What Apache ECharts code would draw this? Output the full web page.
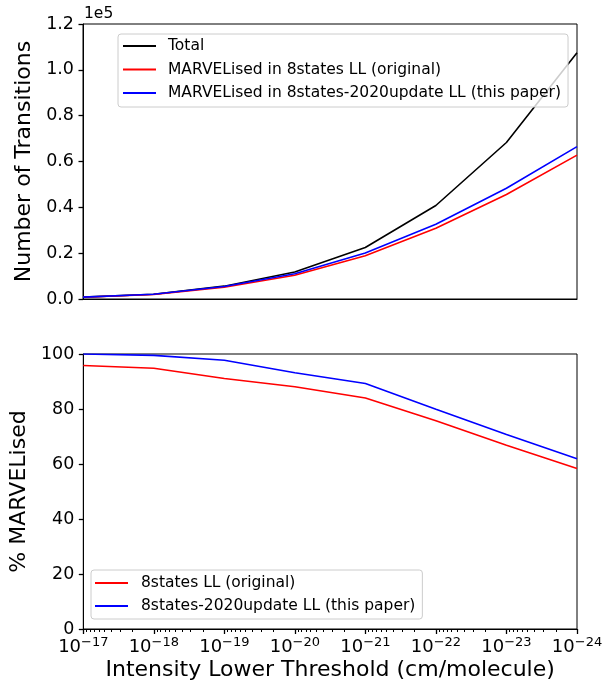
<!DOCTYPE html>
<html>
<head>
<meta charset="utf-8">
<script src="https://cdn.jsdelivr.net/npm/echarts@6/dist/echarts.min.js"></script>
<style>
html,body{margin:0;padding:0;background:#fff;}
#chart{width:614px;height:682px;}
</style>
</head>
<body>
<div id="chart"></div>
<script>
// Intensity thresholds as decade exponents (10^x cm/molecule)
const thresholds = [-17, -18, -19, -20, -21, -22, -23, -24];
// Number of transitions
const totalCounts = [800, 2100, 5600, 11800, 22500, 40800, 68300, 107500];
const marvelOriginal = [766, 1990, 5100, 10400, 18900, 30900, 45600, 62800];
const marvelUpdate = [800, 2090, 5470, 11000, 20100, 32600, 48300, 66500];
// % MARVELised
const pctOriginal = [95.8, 94.8, 91.1, 88.1, 84.0, 75.7, 66.8, 58.4];
const pctUpdate = [100, 99.5, 97.7, 93.2, 89.3, 79.9, 70.7, 61.9];
// Tick labels
const topYTicks = [0, 20000, 40000, 60000, 80000, 100000, 120000];
const bottomYTicks = [0, 20, 40, 60, 80, 100];

const FONT = 'DejaVu Sans';
const pairs = (ys) => thresholds.map((x, i) => [x, ys[i]]);

// minor tick positions (log decades)
const minorTicks = [];
for (let d = -17; d > -24; d--) {
  for (let k = 2; k <= 9; k++) minorTicks.push(d - 1 + Math.log10(k));
}

const chart = echarts.init(document.getElementById('chart'), null, {renderer: 'canvas'});
chart.setOption({
  animation: false,
  backgroundColor: '#fff',
  textStyle: {fontFamily: FONT},
  grid: [
    {left: 83, right: 37, top: 24, height: 275, show: true, borderColor: '#000', borderWidth: 1},
    {left: 83, right: 37, top: 354, height: 275, show: true, borderColor: '#000', borderWidth: 1}
  ],
  xAxis: [
    {
      type: 'value', gridIndex: 0, min: -24, max: -17, interval: 1, inverse: true,
      splitLine: {show: false},
      axisLine: {show: true, lineStyle: {color: '#000'}},
      axisTick: {show: false}, axisLabel: {show: false}
    },
    {
      type: 'value', gridIndex: 1, min: -24, max: -17, interval: 1, inverse: true,
      splitLine: {show: false},
      axisLine: {show: true, lineStyle: {color: '#000'}},
      axisTick: {show: true, length: 5, lineStyle: {color: '#000', width: 1.3}},
      axisLabel: {
        margin: 7, color: '#000',
        formatter: (v) => '{b|10}{s|\u2212' + Math.round(-v) + '}',
        rich: {
          b: {fontFamily: FONT, fontSize: 18, color: '#000'},
          s: {fontFamily: FONT, fontSize: 13, color: '#000', padding: [0, 0, 10, 0]}
        }
      },
      name: 'Intensity Lower Threshold (cm/molecule)',
      nameLocation: 'middle', nameGap: 30,
      nameTextStyle: {fontFamily: FONT, fontSize: 22, color: '#000', verticalAlign: 'top'}
    },
    {
      type: 'value', gridIndex: 1, min: -24, max: -17, inverse: true, position: 'bottom',
      axisLine: {show: false}, splitLine: {show: false}, axisLabel: {show: false},
      axisTick: {show: true, length: 3, customValues: minorTicks, lineStyle: {color: '#000', width: 1}}
    }
  ],
  yAxis: [
    {
      type: 'value', gridIndex: 0, min: 0, max: 120000, interval: 20000,
      splitLine: {show: false},
      axisLine: {show: true, lineStyle: {color: '#000'}},
      axisTick: {show: true, length: 4.5, lineStyle: {color: '#000', width: 1.3}},
      axisLabel: {margin: 9, fontSize: 17.5, color: '#000', fontFamily: FONT,
        formatter: (v) => (v / 1e5).toFixed(1)},
      name: 'Number of Transitions', nameLocation: 'middle', nameGap: 40,
      nameTextStyle: {fontFamily: FONT, fontSize: 22, color: '#000'}
    },
    {
      type: 'value', gridIndex: 1, min: 0, max: 100, interval: 20,
      splitLine: {show: false},
      axisLine: {show: true, lineStyle: {color: '#000'}},
      axisTick: {show: true, length: 4.5, lineStyle: {color: '#000', width: 1.3}},
      axisLabel: {margin: 9, fontSize: 17.5, color: '#000', fontFamily: FONT},
      name: '% MARVELised', nameLocation: 'middle', nameGap: 41,
      nameTextStyle: {fontFamily: FONT, fontSize: 22, color: '#000'}
    }
  ],
  legend: [
    {
      orient: 'vertical', left: 118, top: 34,
      padding: [4, 7, 6, 5], itemGap: 7.5, itemWidth: 33, itemHeight: 2, icon: 'rect',
      backgroundColor: 'rgba(255,255,255,0.8)', borderColor: '#ccc', borderWidth: 1, borderRadius: 3,
      textStyle: {fontFamily: FONT, fontSize: 15.5, color: '#000', lineHeight: 16, padding: [0, 0, 0, 7]},
      data: ['Total', 'MARVELised in 8states LL (original)', 'MARVELised in 8states-2020update LL (this paper)']
    },
    {
      orient: 'vertical', left: 91, top: 570,
      padding: [5, 7, 5, 4], itemGap: 7, itemWidth: 33, itemHeight: 2, icon: 'rect',
      backgroundColor: 'rgba(255,255,255,0.8)', borderColor: '#ccc', borderWidth: 1, borderRadius: 3,
      textStyle: {fontFamily: FONT, fontSize: 15.5, color: '#000', lineHeight: 16, padding: [0, 0, 0, 8]},
      data: ['8states LL (original)', '8states-2020update LL (this paper)']
    }
  ],
  graphic: [
    {type: 'text', left: 84, top: 6, style: {text: '1e5', fontFamily: FONT, fontSize: 15.5, fill: '#000'}}
  ],
  series: [
    {name: 'Total', type: 'line', xAxisIndex: 0, yAxisIndex: 0, showSymbol: false, data: pairs(totalCounts),
      color: '#000', lineStyle: {color: '#000', width: 1.6}},
    {name: 'MARVELised in 8states LL (original)', type: 'line', xAxisIndex: 0, yAxisIndex: 0, showSymbol: false,
      data: pairs(marvelOriginal), color: '#ff0000', lineStyle: {color: '#ff0000', width: 1.6}},
    {name: 'MARVELised in 8states-2020update LL (this paper)', type: 'line', xAxisIndex: 0, yAxisIndex: 0, showSymbol: false,
      data: pairs(marvelUpdate), color: '#0000ff', lineStyle: {color: '#0000ff', width: 1.6}},
    {name: '8states LL (original)', type: 'line', xAxisIndex: 1, yAxisIndex: 1, showSymbol: false,
      data: pairs(pctOriginal), color: '#ff0000', lineStyle: {color: '#ff0000', width: 1.6}},
    {name: '8states-2020update LL (this paper)', type: 'line', xAxisIndex: 1, yAxisIndex: 1, showSymbol: false,
      data: pairs(pctUpdate), color: '#0000ff', lineStyle: {color: '#0000ff', width: 1.6}}
  ]
});
</script>
</body>
</html>
